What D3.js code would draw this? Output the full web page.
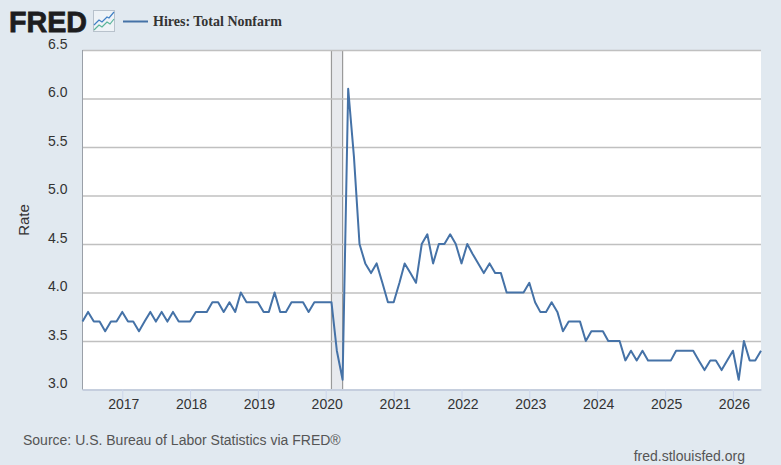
<!DOCTYPE html>
<html lang="en">
	<head>
		<meta charset="utf-8">
		<title>Hires: Total Nonfarm</title>
		<script src="https://cdnjs.cloudflare.com/ajax/libs/d3/7.8.5/d3.min.js"></script>
		<style>
			html, body { margin: 0; padding: 0; background: #e1e9f0; }
			svg { display: block; }
			text { font-family: "Liberation Sans", Arial, sans-serif; }
		</style>
	</head>
	<body>
		<script>

			// monthly hires rate, Jun 2016 onwards
			var startMonth = new Date(2016, 5, 1);
			var endMonth = new Date(2026, 5, 1);
			var hiresRate = [
				3.7, 3.8, 3.7, 3.7, 3.6, 3.7, 3.7,
				3.8, 3.7, 3.7, 3.6, 3.7, 3.8, 3.7, 3.8, 3.7, 3.8, 3.7, 3.7,
				3.7, 3.8, 3.8, 3.8, 3.9, 3.9, 3.8, 3.9, 3.8, 4.0, 3.9, 3.9,
				3.9, 3.8, 3.8, 4.0, 3.8, 3.8, 3.9, 3.9, 3.9, 3.8, 3.9, 3.9,
				3.9, 3.9, 3.4, 3.1, 6.1, 5.4, 4.5, 4.3, 4.2, 4.3, 4.1, 3.9,
				3.9, 4.1, 4.3, 4.2, 4.1, 4.5, 4.6, 4.3, 4.5, 4.5, 4.6, 4.5,
				4.3, 4.5, 4.4, 4.3, 4.2, 4.3, 4.2, 4.2, 4.0, 4.0, 4.0, 4.0,
				4.1, 3.9, 3.8, 3.8, 3.9, 3.8, 3.6, 3.7, 3.7, 3.7, 3.5, 3.6,
				3.6, 3.6, 3.5, 3.5, 3.5, 3.3, 3.4, 3.3, 3.4, 3.3, 3.3, 3.3,
				3.3, 3.3, 3.4, 3.4, 3.4, 3.4, 3.3, 3.2, 3.3, 3.3, 3.2, 3.3,
				3.4, 3.1, 3.5, 3.3, 3.3, 3.4
			];
			var months = d3.timeMonth.range(startMonth, d3.timeMonth.offset(endMonth, 1));

			var yTicks = [3.0, 3.5, 4.0, 4.5, 5.0, 5.5, 6.0, 6.5];
			var xTickYears = [2017, 2018, 2019, 2020, 2021, 2022, 2023, 2024, 2025, 2026];
			var recession = [new Date(2020, 1, 1), new Date(2020, 3, 1)];

			var seriesName = "Hires: Total Nonfarm";
			var yTitle = "Rate";
			var sourceText = "Source: U.S. Bureau of Labor Statistics via FRED\u00AE";
			var siteText = "fred.stlouisfed.org";

			//Width and height
			var w = 781;
			var h = 465;
			var plot = { left: 82.5, right: 761, top: 50, bottom: 389.5 };

			var svg = d3.select("body")
						.append("svg")
						.attr("width", w)
						.attr("height", h);

			var x = d3.scaleTime()
						.domain([startMonth, endMonth])
						.range([plot.left, plot.right]);

			var y = d3.scaleLinear()
						.domain([3.0, 6.5])
						.range([plot.bottom, plot.top]);

			//white plot area
			svg.append("rect")
				.attr("x", plot.left)
				.attr("y", plot.top)
				.attr("width", plot.right - plot.left)
				.attr("height", plot.bottom - plot.top)
				.attr("fill", "#fff");

			//recession band, sides only, gridlines go over it
			svg.append("rect")
				.attr("x", x(recession[0]))
				.attr("y", plot.top)
				.attr("width", x(recession[1]) - x(recession[0]))
				.attr("height", plot.bottom - plot.top)
				.attr("fill", "#e8eaee");
			svg.selectAll(".recession-edge")
				.data(recession)
				.enter()
				.append("line")
				.attr("class", "recession-edge")
				.attr("x1", function(d) { return x(d); })
				.attr("x2", function(d) { return x(d); })
				.attr("y1", plot.top)
				.attr("y2", plot.bottom)
				.attr("stroke", "#9a9a9a")
				.attr("stroke-width", 1.2);

			//gridlines + y labels
			var yAxis = svg.append("g")
				.attr("transform", "translate(" + plot.left + ",0)")
				.call(d3.axisLeft(y)
					.tickValues(yTicks)
					.tickFormat(d3.format(".1f"))
					.tickSize(-(plot.right - plot.left))
					.tickPadding(15));
			yAxis.select(".domain").remove();
			yAxis.selectAll("line")
				.attr("stroke", function(d) { return d === 3.0 ? "#c3ccdc" : "#c0c0c0"; })
				.attr("stroke-width", 1.4);
			yAxis.selectAll("text")
				.attr("fill", "#333")
				.attr("dy", "-0.13em")
				.style("font-size", "14px");

			//left edge of the plot
			svg.append("line")
				.attr("x1", plot.left)
				.attr("x2", plot.left)
				.attr("y1", plot.top)
				.attr("y2", plot.bottom)
				.attr("stroke", "#9aa0a8")
				.attr("stroke-width", 1);

			//x axis
			var xAxis = svg.append("g")
				.attr("transform", "translate(0," + plot.bottom + ")")
				.call(d3.axisBottom(x)
					.tickValues(xTickYears.map(function(d) { return new Date(d, 0, 1); }))
					.tickFormat(d3.timeFormat("%Y"))
					.tickSizeInner(10)
					.tickSizeOuter(0)
					.tickPadding(0));
			xAxis.select(".domain")
				.attr("stroke", "#c3ccdc")
				.attr("stroke-width", 1.4);
			xAxis.selectAll("line").attr("stroke", "#ccd6eb");
			xAxis.selectAll("text")
				.attr("fill", "#333")
				.attr("dx", "1px")
				.style("font-size", "14px");

			//the series
			var line = d3.line()
				.x(function(d, i) { return x(months[i]); })
				.y(function(d) { return y(d); });

			svg.append("path")
				.datum(hiresRate)
				.attr("d", line)
				.attr("fill", "none")
				.attr("stroke", "#4572a7")
				.attr("stroke-width", 2)
				.attr("stroke-linejoin", "round");

			//y title
			svg.append("text")
				.attr("transform", "translate(29,220) rotate(-90)")
				.attr("text-anchor", "middle")
				.attr("fill", "#333")
				.style("font-size", "15px")
				.text(yTitle);

			//logo
			svg.append("text")
				.attr("x", 9)
				.attr("y", 31.5)
				.attr("fill", "#1d1d1f")
				.attr("textLength", 78)
				.attr("lengthAdjust", "spacingAndGlyphs")
				.style("font-size", "30px")
				.style("font-weight", "bold")
				.attr("stroke", "#1d1d1f")
				.attr("stroke-width", 0.8)
				.text("FRED");

			var icon = svg.append("g").attr("transform", "translate(93,10)");
			icon.append("rect")
				.attr("x", 0.5).attr("y", 0.5)
				.attr("width", 21).attr("height", 21)
				.attr("fill", "#eef3f7")
				.attr("stroke", "#b8c2cc");
			icon.append("path")
				.attr("d", "M1,15 L6,10 L9,12 L14,7 L16,8 L21,2")
				.attr("fill", "none").attr("stroke", "#3f7fc4").attr("stroke-width", 1.2);
			icon.append("path")
				.attr("d", "M1,20 L6,15 L9,17 L14,12 L17,14 L21,9")
				.attr("fill", "none").attr("stroke", "#5ab49a").attr("stroke-width", 1.2);

			//legend
			svg.append("line")
				.attr("x1", 123).attr("x2", 148)
				.attr("y1", 21.5).attr("y2", 21.5)
				.attr("stroke", "#4572a7")
				.attr("stroke-width", 2);
			svg.append("text")
				.attr("x", 153)
				.attr("y", 25.5)
				.attr("fill", "#333")
				.style("font-family", "'Liberation Serif', 'Times New Roman', serif")
				.style("font-size", "14px")
				.style("font-weight", "bold")
				.text(seriesName);

			//footer
			svg.append("text")
				.attr("x", 23)
				.attr("y", 445)
				.attr("fill", "#555")
				.style("font-size", "14px")
				.text(sourceText);
			svg.append("text")
				.attr("x", 745)
				.attr("y", 461)
				.attr("text-anchor", "end")
				.attr("fill", "#555")
				.style("font-size", "14px")
				.text(siteText);

		</script>
	</body>
</html>
